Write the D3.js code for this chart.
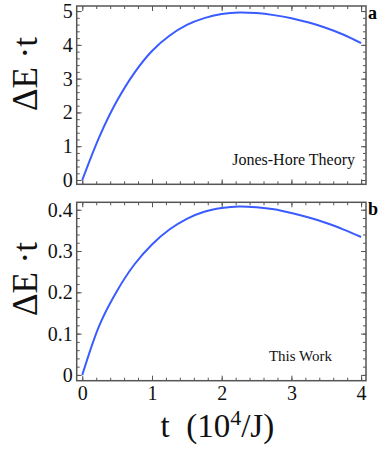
<!DOCTYPE html>
<html lang="en">
<head>
<meta charset="UTF-8">
<title>Delta E t</title>
<script src="https://d3js.org/d3.v7.min.js"></script>
<style>
    body { margin: 0; padding: 0; background: white; }
    svg { display: block; font-family: 'Liberation Serif', 'Times New Roman', serif; }
    .frame { fill: none; stroke: #555; stroke-width: 1.5; }
    .tick line { stroke: #555; stroke-width: 1; }
    .tick text { font-family: 'Liberation Serif', 'Times New Roman', serif; font-size: 20px; fill: #111; }
    .curve { fill: none; stroke: #3a5cff; stroke-width: 2; }
</style>
</head>
<body>
<svg width="381" height="451"></svg>
<script>
    const tValues = [0, 0.25, 0.5, 0.75, 1, 1.25, 1.5, 1.75, 2, 2.25, 2.5, 2.75, 3, 3.25, 3.5, 3.75, 4];
    const jonesHore = [0, 1.3, 2.35, 3.18, 3.82, 4.27, 4.59, 4.79, 4.91, 4.96, 4.94, 4.88, 4.79, 4.66, 4.5, 4.3, 4.05];
    const thisWork = [0, 0.122, 0.204, 0.268, 0.316, 0.352, 0.378, 0.395, 0.404, 0.408, 0.406, 0.401, 0.392, 0.381, 0.368, 0.352, 0.334];

    const xTicks = [0, 1, 2, 3, 4];
    const aTicks = [0, 1, 2, 3, 4, 5];
    const bTicks = [0, 0.1, 0.2, 0.3, 0.4];
    const bTickLabels = ["0", "0.1", "0.2", "0.3", "0.4"];

    const svg = d3.select("svg");

    const left = 76.7, right = 366;
    const x = d3.scaleLinear().domain([-0.08, 4.07]).range([left, right]);
    const xMinor = d3.range(0, 4.01, 0.2);

    const panels = [
        { top: 6, bottom: 184.3, domain: [-0.127, 5.15], ticks: aTicks, labels: aTicks.map(String),
          minorStep: 0.2, values: jonesHore, note: "Jones-Hore Theory", noteX: 355, noteY: 165,
          letter: "a", showX: false, labelY: 74 },
        { top: 202.3, bottom: 380.7, domain: [-0.014, 0.418], ticks: bTicks, labels: bTickLabels,
          minorStep: 0.02, values: thisWork, note: "This Work", noteX: 332, noteY: 361,
          letter: "b", showX: true, labelY: 279 }
    ];

    panels.forEach(function(p) {
        const y = d3.scaleLinear().domain(p.domain).range([p.bottom, p.top]);
        const h = p.bottom - p.top;
        const yMinor = d3.range(0, p.domain[1], p.minorStep);
        const g = svg.append("g");

        // minor ticks, all four sides
        g.append("g").attr("transform", "translate(0," + p.bottom + ")")
            .call(d3.axisBottom(x).tickValues(xMinor).tickSize(-3).tickFormat(""));
        g.append("g").attr("transform", "translate(0," + p.top + ")")
            .call(d3.axisTop(x).tickValues(xMinor).tickSize(-3).tickFormat(""));
        g.append("g").attr("transform", "translate(" + left + ",0)")
            .call(d3.axisLeft(y).tickValues(yMinor).tickSize(-3).tickFormat(""));
        g.append("g").attr("transform", "translate(" + right + ",0)")
            .call(d3.axisRight(y).tickValues(yMinor).tickSize(-3).tickFormat(""));

        // major ticks
        g.append("g").attr("transform", "translate(0," + p.bottom + ")")
            .call(d3.axisBottom(x).tickValues(xTicks).tickSize(-5).tickPadding(5)
                .tickFormat(function(d) { return p.showX ? d : ""; }));
        g.append("g").attr("transform", "translate(0," + p.top + ")")
            .call(d3.axisTop(x).tickValues(xTicks).tickSize(-5).tickFormat(""));
        g.append("g").attr("transform", "translate(" + left + ",0)")
            .call(d3.axisLeft(y).tickValues(p.ticks).tickSize(-5).tickPadding(4)
                .tickFormat(function(d, i) { return p.labels[i]; }));
        g.append("g").attr("transform", "translate(" + right + ",0)")
            .call(d3.axisRight(y).tickValues(p.ticks).tickSize(-5).tickFormat(""));

        g.selectAll(".domain").remove();

        g.append("rect").attr("class", "frame")
            .attr("x", left).attr("y", p.top)
            .attr("width", right - left).attr("height", h);

        const line = d3.line()
            .x(function(d, i) { return x(tValues[i]); })
            .y(function(d) { return y(d); })
            .curve(d3.curveCatmullRom);

        g.append("path").attr("class", "curve").attr("d", line(p.values));

        g.append("text")
            .attr("x", p.noteX).attr("y", p.noteY)
            .attr("text-anchor", "end")
            .attr("font-size", p.letter === "a" ? 16 : 15)
            .attr("fill", "#111")
            .text(p.note);

        g.append("text")
            .attr("x", 368).attr("y", p.top + 13)
            .attr("font-size", 18)
            .attr("font-weight", "bold")
            .text(p.letter);

        g.append("text")
            .attr("transform", "translate(37," + p.labelY + ") rotate(-90)")
            .attr("text-anchor", "middle")
            .attr("font-size", 35)
            .attr("fill", "#111")
            .text("\u0394E \u00b7t");
    });

    // x axis title
    const xt = svg.append("text")
        .attr("x", (left + right) / 2 - 4).attr("y", 437)
        .attr("text-anchor", "middle")
        .attr("font-size", 33)
        .attr("fill", "#111");
    xt.append("tspan").text("t\u00a0\u00a0(10");
    xt.append("tspan").attr("font-size", 22).attr("dy", -12).text("4");
    xt.append("tspan").attr("dy", 12).text("/J)");
</script>
</body>
</html>
